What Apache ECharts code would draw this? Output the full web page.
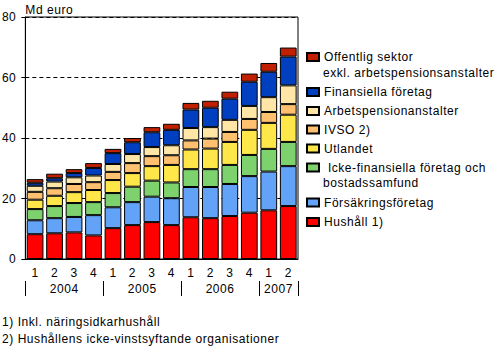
<!DOCTYPE html>
<html>
<head>
<meta charset="utf-8">
<script src="https://cdn.jsdelivr.net/npm/echarts@6/dist/echarts.min.js"></script>
<style>
  html, body { margin: 0; padding: 0; background: #fff; }
  #chart { width: 497px; height: 346px; letter-spacing: 0.55px; }
</style>
</head>
<body>
<div id="chart"></div>
<script>
// Quarterly periods, 2004 Q1 – 2007 Q2
const quarters = ['1','2','3','4','1','2','3','4','1','2','3','4','1','2'];
const yearLabels = ['2004', '2005', '2006', '2007'];
const quartersInYear = [4, 4, 4, 2];
const yTicks = [0, 20, 40, 60, 80];

// Holdings by sector, Md euro (stacked bottom to top)
const hushall         = [8.2, 8.5, 8.8, 7.8, 10.2, 11.2, 12.2, 11.2, 13.8, 13.5, 14.2, 15.3, 16.1, 17.5];
const forsakring      = [4.6, 5.0, 5.1, 6.7, 6.9, 7.6, 8.4, 8.9, 10.0, 10.3, 10.6, 12.1, 12.8, 13.2];
const ickeFinansiella = [3.7, 4.0, 4.6, 4.3, 4.7, 5.1, 5.3, 5.2, 5.9, 5.9, 6.3, 7.0, 7.5, 8.0];
const utlandet        = [3.1, 3.4, 3.6, 4.0, 4.3, 4.5, 4.8, 5.8, 6.5, 6.8, 7.6, 8.3, 8.6, 9.0];
const ivso            = [2.6, 2.5, 2.7, 2.6, 2.7, 3.3, 3.3, 3.2, 3.0, 3.3, 3.3, 3.6, 3.6, 3.5];
const arbetspension   = [2.0, 2.2, 2.2, 2.2, 2.6, 3.0, 3.0, 3.3, 4.1, 3.8, 4.0, 4.3, 4.9, 6.2];
const finansiella     = [1.0, 1.1, 1.4, 2.5, 3.6, 3.9, 4.9, 5.1, 6.1, 6.4, 7.0, 8.0, 8.4, 9.5];
const offentlig       = [1.2, 1.5, 1.3, 1.6, 1.4, 1.4, 1.7, 2.0, 2.2, 2.3, 2.3, 2.7, 2.9, 3.0];

const seriesNames = [
  'Hushåll 1)',
  'Försäkringsföretag',
  ' Icke-finansiella företag och\nbostadssamfund',
  'Utlandet',
  'IVSO 2)',
  'Arbetspensionanstalter',
  'Finansiella företag',
  'Offentlig sektor\nexkl. arbetspensionsanstalter'
];
const seriesValues = [hushall, forsakring, ickeFinansiella, utlandet, ivso, arbetspension, finansiella, offentlig];
const seriesColors = ['#ff0000', '#62a3f8', '#7ed26e', '#ffe74a', '#ffc070', '#ffe6a6', '#0040c0', '#c02000'];

const footnotes = ['1) Inkl. näringsidkarhushåll', '2) Hushållens icke-vinstsyftande organisationer'];

const FONT = 'Arial, "Liberation Sans", sans-serif';
const FS = 12;

// category keys carry the year so repeated quarter numbers stay distinct
const categories = [];
yearLabels.forEach((y, yi) => {
  for (let q = 0; q < quartersInYear[yi]; q++) categories.push(y + ':' + quarters[categories.length]);
});

// legend: one component per entry, listed top-down in reverse stacking order;
// only the first line of a name sits next to the swatch, a second line goes below it
const legendCenters = [57, 92, 111, 129.5, 148.5, 167.5, 202.5, 222];
const LEGEND_LEFT = 306, LEGEND_ICON_W = 12;
const legends = seriesNames.slice().reverse().map((name, i) => ({
  show: true,
  left: LEGEND_LEFT,
  top: legendCenters[i] - 7,
  padding: 0,
  itemWidth: LEGEND_ICON_W,
  itemHeight: 8,
  itemGap: 0,
  selectedMode: false,
  icon: 'rect',
  data: [name],
  formatter: n => n.split('\n')[0],
  textStyle: { fontFamily: FONT, fontSize: FS, color: '#000', lineHeight: 14 }
}));

const chart = echarts.init(document.getElementById('chart'), null, { renderer: 'svg' });

chart.setOption({
  animation: false,
  backgroundColor: '#fff',
  textStyle: { fontFamily: FONT },
  grid: {
    left: 24, right: 199, top: 17, bottom: 87,
    show: true, borderColor: '#000', borderWidth: 1, backgroundColor: 'transparent'
  },
  legend: legends,
  xAxis: {
    type: 'category',
    data: categories,
    axisLine: { lineStyle: { color: '#000', width: 1 } },
    axisTick: { alignWithLabel: true, length: 4, lineStyle: { color: '#000' } },
    axisLabel: {
      interval: 0, margin: 8, color: '#000', fontFamily: FONT, fontSize: FS,
      formatter: v => v.split(':')[1]
    },
    splitLine: { show: false }
  },
  yAxis: {
    type: 'value',
    min: yTicks[0], max: yTicks[yTicks.length - 1], interval: 20,
    name: 'Md euro',
    nameLocation: 'end',
    nameGap: 7,
    nameTextStyle: { color: '#000', fontFamily: FONT, fontSize: FS, align: 'left', verticalAlign: 'middle' },
    axisLine: { show: true, lineStyle: { color: '#000', width: 1 } },
    axisTick: { show: true, length: 4, lineStyle: { color: '#000' } },
    axisLabel: { margin: 9, color: '#000', fontFamily: FONT, fontSize: FS },
    splitLine: { show: true, lineStyle: { color: '#000', type: [4, 3], width: 1 } }
  },
  series: seriesNames.map((name, i) => ({
    name: name,
    type: 'bar',
    stack: 'total',
    barCategoryGap: '14%',
    data: seriesValues[i],
    itemStyle: { color: seriesColors[i], borderColor: '#000', borderWidth: 1 }
  }))
});

// year row under the quarter labels, legend continuation lines, footnotes
function drawExtras() {
  const c0 = chart.convertToPixel({ xAxisIndex: 0 }, categories[0]);
  const c1 = chart.convertToPixel({ xAxisIndex: 0 }, categories[1]);
  const step = c1 - c0;
  const edge = idx => c0 - step / 2 + idx * step;
  const font = FS + 'px ' + FONT;
  const graphics = [];
  const bounds = [0];
  let acc = 0;
  quartersInYear.forEach(n => { acc += n; bounds.push(acc); });
  bounds.forEach(b => {
    const x = Math.round(edge(b)) + 0.5;
    graphics.push({ type: 'line', shape: { x1: x, y1: 281, x2: x, y2: 296 }, style: { stroke: '#000', lineWidth: 1 }, silent: true });
  });
  yearLabels.forEach((y, i) => {
    const cx = (edge(bounds[i]) + edge(bounds[i + 1])) / 2;
    graphics.push({ type: 'text', x: cx, y: 289, style: { text: y, font: font, fill: '#000', textAlign: 'center', textVerticalAlign: 'middle' }, silent: true });
  });
  seriesNames.slice().reverse().forEach((name, i) => {
    const parts = name.split('\n');
    if (parts.length > 1) {
      graphics.push({ type: 'text', x: LEGEND_LEFT + LEGEND_ICON_W + 5, y: legendCenters[i] + 15.5,
        style: { text: parts[1], font: font, fill: '#000', textAlign: 'left', textVerticalAlign: 'middle' }, silent: true });
    }
  });
  footnotes.forEach((t, i) => {
    graphics.push({ type: 'text', x: 2, y: 322 + i * 16.5, style: { text: t, font: font, fill: '#000', textAlign: 'left', textVerticalAlign: 'middle' }, silent: true });
  });
  chart.setOption({ graphic: graphics });
}
drawExtras();
</script>
</body>
</html>
